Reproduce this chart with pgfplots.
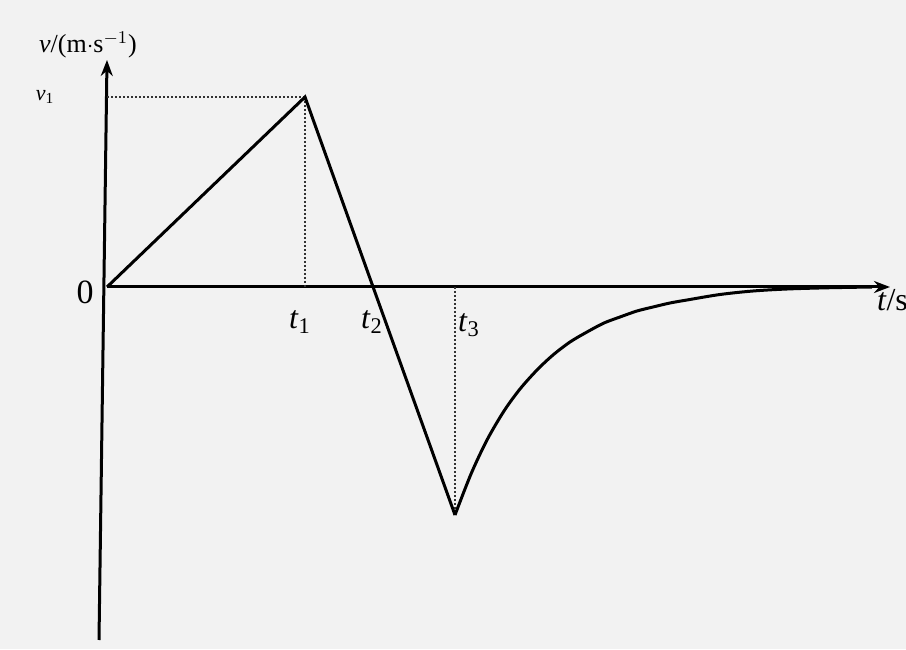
\documentclass[border=0pt]{standalone}
\usepackage{fontspec}
\setmainfont{Liberation Serif}
\usepackage{pgfplots}
\pgfplotsset{compat=1.18}
\usetikzlibrary{arrows.meta}

\begin{document}
\begin{tikzpicture}
\begin{axis}[
    x=0.5pt, y=0.5pt,
    xmin=-107, xmax=799,
    ymin=-362, ymax=287,
    hide axis,
    clip=false,
]
% page background (scanned paper)
\fill[black!5] (axis cs:-107,-362) rectangle (axis cs:799,287);
\coordinate (bl) at (axis cs:-107,-362);
\coordinate (tr) at (axis cs:799,287);

% axes
\addplot[line width=1.5pt, -{Stealth[length=8pt,width=6pt]}] coordinates {(0,0) (783,0)};
\addplot[line width=1.5pt, -{Stealth[length=8pt,width=6pt]}] coordinates {(-8,-353) (0,227)};

% dotted guides
\addplot[line width=1pt, densely dotted, black!80] coordinates {(0,190) (198,190)};
\addplot[line width=1pt, densely dotted, black!80] coordinates {(198,190) (198,0)};
\addplot[line width=1pt, densely dotted, black!80] coordinates {(348,0) (348,-228)};

% v-t graph: straight segments
\addplot[line width=1.5pt, black] coordinates {(0,0) (198,190) (265,3) (348,-228)};

% recovery curve after t3
\addplot[line width=1.5pt, black, smooth] coordinates {
    (348,-228) (364,-187) (380,-153) (397,-124) (413,-102) (430,-83)
    (446,-68) (463,-55) (480,-45) (497,-36) (513,-30) (530,-24)
    (546,-20) (563,-16) (580,-13) (613,-7.5) (646,-4) (680,-2)
    (720,-0.8) (765,0)
};

% labels
\node[font=\fontsize{13}{15}\selectfont] at (axis cs:-19,242) {\textit{v}/(m$\cdot$s$^{-1}$)};
\node[font=\fontsize{11}{13}\selectfont] at (axis cs:-62,190) {\textit{v}\textsubscript{1}};
\node[font=\fontsize{17}{19}\selectfont] at (axis cs:-22,-5) {0};
\node[font=\fontsize{16}{18}\selectfont] at (axis cs:193,-35) {\textit{t}\textsubscript{1}};
\node[font=\fontsize{16}{18}\selectfont] at (axis cs:265,-35) {\textit{t}\textsubscript{2}};
\node[font=\fontsize{16}{18}\selectfont] at (axis cs:362,-38) {\textit{t}\textsubscript{3}};
\node[font=\fontsize{16}{18}\selectfont, anchor=west] at (axis cs:763,-13) {\textit{t}/s};
\end{axis}
\pgfresetboundingbox
\useasboundingbox (bl) rectangle (tr);
\end{tikzpicture}
\end{document}
